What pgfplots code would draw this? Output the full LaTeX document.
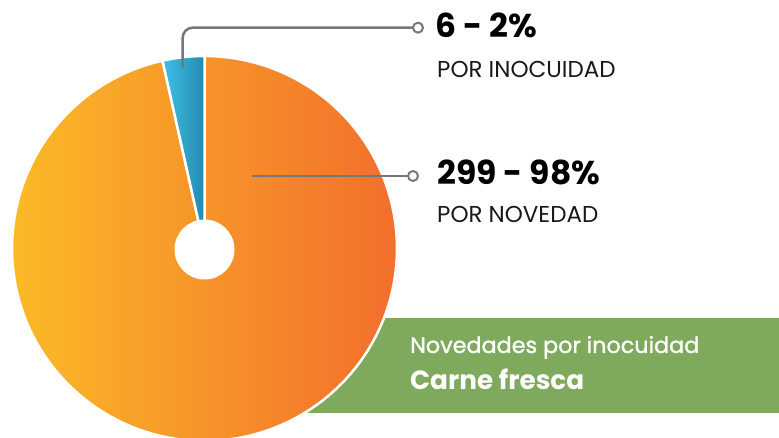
\documentclass[border=0pt]{standalone}
\usepackage{fontspec}
\setmainfont{Poppins}
\newfontfamily\popmed[FakeBold=1.2]{Poppins}
\usepackage{pgfplots}
\pgfplotsset{compat=1.18}
\definecolor{orL}{HTML}{FBBA27}
\definecolor{orR}{HTML}{F26E2C}
\definecolor{blL}{HTML}{3FC1E8}
\definecolor{blR}{HTML}{2389AE}
\definecolor{boxgreen}{HTML}{7FA95C}
\definecolor{leader}{HTML}{76777A}
% shares of the pie as drawn (percent of the full circle)
\def\shareInocuidad{3.5}
\def\shareNovedad{96.5}
\pgfmathsetmacro{\angA}{90+3.6*\shareInocuidad}
\pgfmathsetmacro{\angB}{\angA+3.6*\shareNovedad}
\begin{document}
\begin{tikzpicture}
\clip (0,0) rectangle (779pt,438pt);
\begin{axis}[at={(0,0)},anchor=south west,width=779pt,height=438pt,scale only axis,
  xmin=0,xmax=779,ymin=0,ymax=438,hide axis,clip=false]
\fill[boxgreen] (axis cs:300,25) rectangle (axis cs:779,120);
% orange slice
\addplot[draw=white,line width=2.5pt,line join=round,left color=orL,right color=orR,
  domain=\angA:\angB,samples=150,variable=\t]
  ({204.5+192.5*cos(\t)},{189.5+192.5*sin(\t)}) -- (axis cs:204.5,189.5) -- cycle;
% blue slice
\addplot[draw=white,line width=2.5pt,line join=round,left color=blL,right color=blR,
  domain=90:\angA,samples=20,variable=\t]
  ({204.5+192.5*cos(\t)},{189.5+192.5*sin(\t)}) -- (axis cs:204.5,189.5) -- cycle;
% hole
\fill[white] (axis cs:204.5,188.5) circle[radius=30];
% leaders
\draw[leader,line width=2.5pt,rounded corners=10pt] (axis cs:182.7,370) -- (axis cs:182.7,410.3) -- (axis cs:413,410.3);
\draw[leader,line width=2pt,fill=white] (axis cs:418,410.3) circle[radius=5];
\draw[leader,line width=2.5pt] (axis cs:252,262) -- (axis cs:408,262);
\draw[leader,line width=2pt,fill=white] (axis cs:413,262) circle[radius=5];
% labels
\node[anchor=base west,inner sep=0,font=\fontsize{33}{36}\selectfont\bfseries] at (axis cs:435,400.5) {6 - 2\%};
\node[anchor=base west,inner sep=0,font=\fontsize{23}{26}\selectfont,text=black!90] at (axis cs:437,360.5) {POR INOCUIDAD};
\node[anchor=base west,inner sep=0,font=\fontsize{33}{36}\selectfont\bfseries] at (axis cs:437,253) {299 - 98\%};
\node[anchor=base west,inner sep=0,font=\fontsize{23}{26}\selectfont,text=black!90] at (axis cs:437,215.3) {POR NOVEDAD};
\node[anchor=base west,inner sep=0,font=\popmed\fontsize{22.3}{26}\selectfont,text=white] at (axis cs:410,85) {Novedades por inocuidad};
\node[anchor=base west,inner sep=0,font=\fontsize{26.3}{30}\selectfont\bfseries,text=white] at (axis cs:410,48) {Carne fresca};
\end{axis}
\end{tikzpicture}
\end{document}
